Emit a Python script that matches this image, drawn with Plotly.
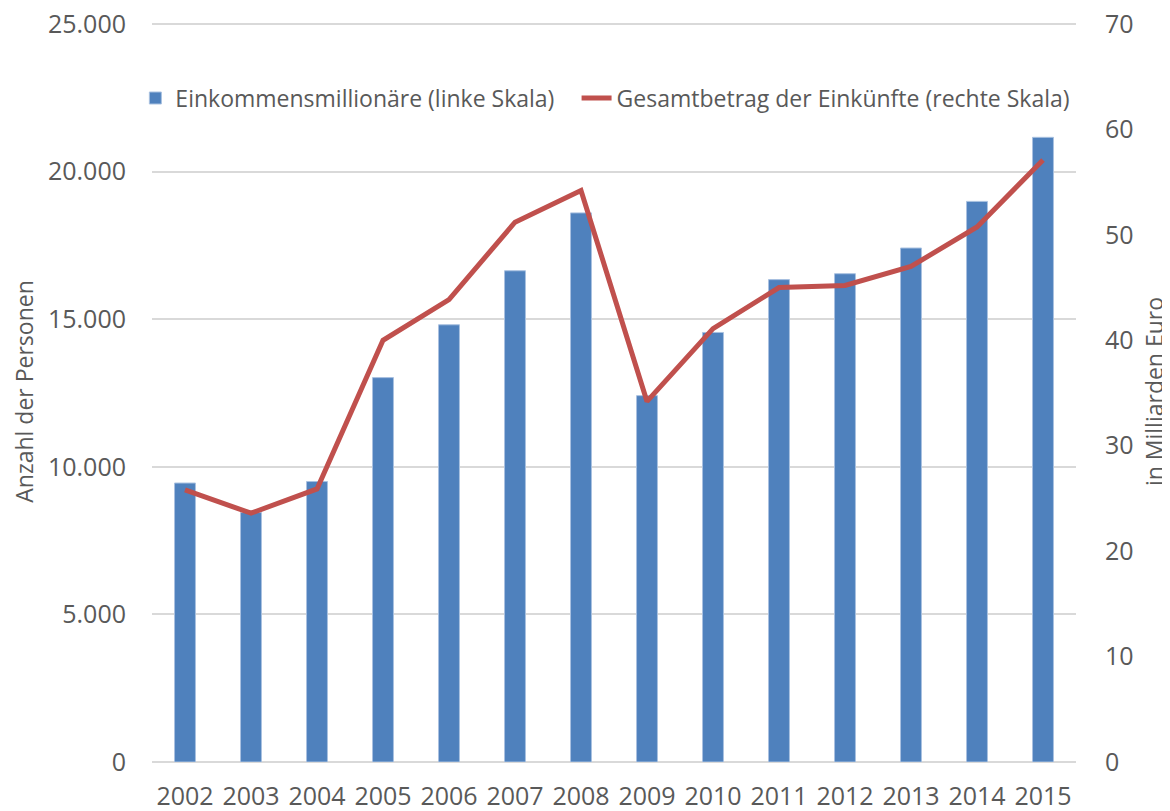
import plotly.graph_objects as go

years = ["2002", "2003", "2004", "2005", "2006", "2007", "2008", "2009", "2010",
         "2011", "2012", "2013", "2014", "2015"]
millionaires = [9450, 8450, 9500, 13020, 14810, 16640, 18600, 12410, 14550,
                16340, 16540, 17410, 18990, 21160]
income_bn = [25.8, 23.6, 25.9, 40.0, 43.85, 51.2, 54.2, 34.2, 41.1,
             45.0, 45.2, 47.0, 50.75, 57.1]

bar_name = "Einkommensmillionäre (linke Skala)"
line_name = "Gesamtbetrag der Einkünfte (rechte Skala)"
left_title = "Anzahl der Personen"
right_title = "in Milliarden Euro"

FONT = "Open Sans"
TXT = "#595959"

LEFT_MAX = 25000
RIGHT_MAX = 70
PAD = 1.004  # small headroom so the top gridline is drawn

fig = go.Figure()
fig.add_trace(go.Bar(
    x=years, y=millionaires, name=bar_name,
    marker=dict(color="#4F81BD", line=dict(color="#A9C1E0", width=1)),
    yaxis="y", legend="legend",
))
fig.add_trace(go.Scatter(
    x=years, y=income_bn, name=line_name, mode="lines",
    line=dict(color="#C0504D", width=5),
    yaxis="y2", legend="legend2",
))

leg_common = dict(orientation="h", yanchor="middle", y=0.896, xanchor="left",
                  font=dict(family=FONT, size=23, color=TXT),
                  bgcolor="rgba(0,0,0,0)", borderwidth=0)

fig.update_layout(
    width=1162, height=803,
    margin=dict(l=144, r=94, t=13, b=49, autoexpand=False),
    paper_bgcolor="white", plot_bgcolor="white",
    separators=",.",
    bargap=0.683,
    font=dict(family=FONT, color=TXT, size=25),
    showlegend=True,
    legend=dict(x=-0.018, **leg_common),
    legend2=dict(x=0.4595, **leg_common),
    xaxis=dict(
        showline=False, showgrid=False, zeroline=False, automargin=False,
        ticks="outside", ticklen=12, tickcolor="rgba(0,0,0,0)",
        tickfont=dict(family=FONT, size=25, color=TXT),
    ),
    yaxis=dict(
        range=[0, LEFT_MAX * PAD], tickvals=[0, 5000, 10000, 15000, 20000, 25000],
        tickformat=",", automargin=False,
        ticklabeloverflow="allow",
        showgrid=True, gridcolor="#D9D9D9", gridwidth=2,
        zeroline=True, zerolinecolor="#D9D9D9", zerolinewidth=2, showline=False,
        ticks="outside", ticklen=20, tickcolor="rgba(0,0,0,0)",
        tickfont=dict(family=FONT, size=25, color=TXT),
        title=dict(text=left_title, font=dict(family=FONT, size=23, color=TXT), standoff=14),
    ),
    yaxis2=dict(
        range=[0, RIGHT_MAX * PAD], tickvals=[0, 10, 20, 30, 40, 50, 60, 70],
        overlaying="y", side="right", automargin=False,
        ticklabeloverflow="allow",
        showgrid=False, zeroline=False, showline=False,
        ticks="outside", ticklen=23, tickcolor="rgba(0,0,0,0)",
        tickfont=dict(family=FONT, size=25, color=TXT),
        title=dict(text=right_title, font=dict(family=FONT, size=23, color=TXT), standoff=14),
    ),
)

fig.write_html("out.html")
